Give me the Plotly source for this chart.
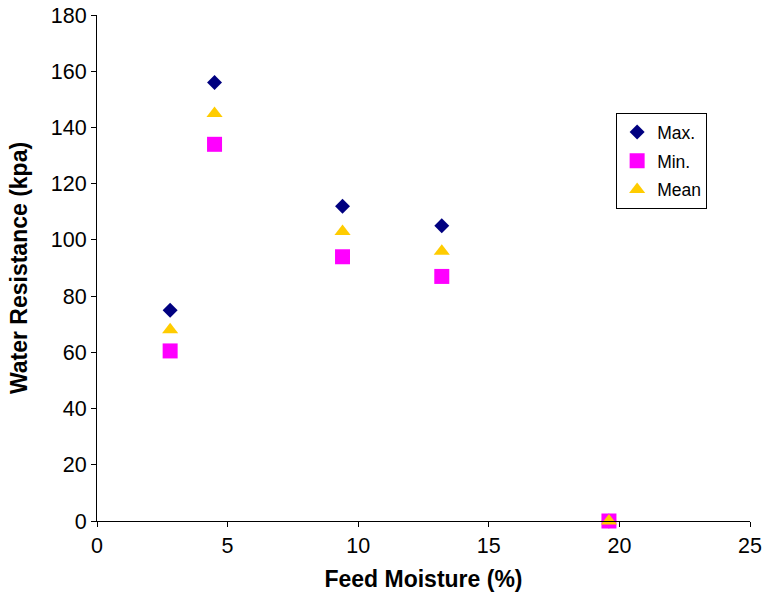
import plotly.graph_objects as go

moisture = [2.8, 4.5, 9.4, 13.2, 19.6]
max_vals = [75, 156, 112, 105, 0]
min_vals = [60.5, 134, 94, 87, 0]
mean_vals = [68, 145, 103, 96, 0]

fig = go.Figure()
fig.add_trace(go.Scatter(x=moisture, y=max_vals, mode="markers", name="Max.", legendgroup="a",
                         marker=dict(symbol="diamond", size=11.5, color="#000080"), cliponaxis=False))
fig.add_trace(go.Scatter(x=moisture, y=min_vals, mode="markers", name="Min.", legendgroup="b",
                         marker=dict(symbol="square", size=15, color="#FF00FF"), cliponaxis=False))
fig.add_trace(go.Scatter(x=moisture, y=mean_vals, mode="markers", name="Mean", legendgroup="c",
                         marker=dict(symbol="triangle-up", size=14, color="#FFCC00"), cliponaxis=False))

font = "Liberation Sans, Arial, sans-serif"
fig.update_layout(
    width=765, height=593,
    margin=dict(l=97, r=15, t=15, b=72),
    plot_bgcolor="white", paper_bgcolor="white",
    font=dict(family=font, size=21.5, color="black"),
    showlegend=True,
    legend=dict(x=0.795, y=0.806, xanchor="left", yanchor="top",
                bordercolor="black", borderwidth=1, bgcolor="white",
                font=dict(size=17.5), tracegroupgap=3, itemwidth=30),
    xaxis=dict(range=[0, 25], dtick=5, showgrid=False, zeroline=False,
               showline=True, linecolor="black", linewidth=1, automargin=False,
               ticks="outside", ticklen=5, tickcolor="black",
               title=dict(text="<b>Feed Moisture (%)</b>", font=dict(size=23), standoff=14)),
    yaxis=dict(range=[0, 180], dtick=20, showgrid=False, zeroline=False,
               showline=True, linecolor="black", linewidth=1, automargin=False,
               ticks="outside", ticklen=5, tickcolor="black",
               title=dict(text="<b>Water Resistance (kpa)</b>", font=dict(size=23), standoff=16)),
)
fig.write_html("out.html", config={"displayModeBar": False},
               post_script="document.body.style.margin='0';")
